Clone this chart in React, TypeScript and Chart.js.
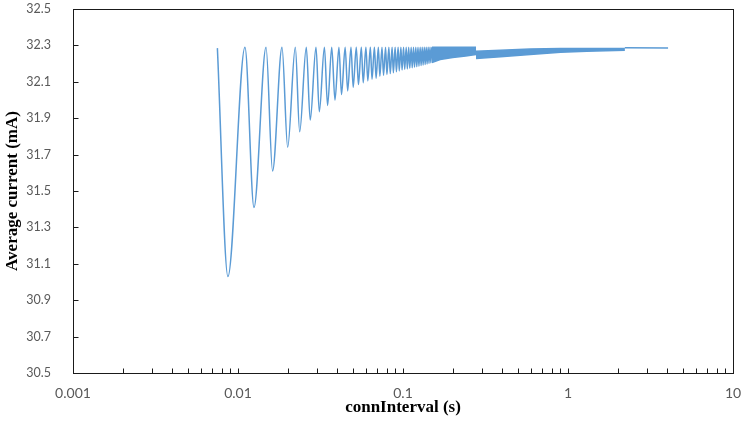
import React, { useEffect, useRef } from "react";
import { Chart, registerables } from "chart.js";

Chart.register(...registerables);

// ---- Data ----
// Oscillating part: start point, then alternating troughs / peaks (connInterval in s, current in mA)
const oscInterval = [
  0.0075, 0.00869, 0.01102, 0.0125, 0.01479, 0.0162, 0.01848, 0.02, 0.02225,
  0.02365, 0.02594, 0.0274, 0.0297, 0.0311, 0.0334, 0.0349, 0.037, 0.0387,
  0.0409, 0.0424, 0.0446, 0.0462, 0.0484, 0.0499, 0.0521, 0.0537, 0.0559,
  0.0574, 0.0596, 0.0612, 0.0634, 0.0649, 0.0671, 0.0687, 0.0709, 0.0724,
  0.0746, 0.0762, 0.0784, 0.0799, 0.0821, 0.0837, 0.0859, 0.0874, 0.0896,
  0.0912, 0.0934, 0.0949, 0.0971, 0.0987, 0.1008,
  0.1024, 0.1046, 0.1062, 0.1083, 0.1099, 0.1121, 0.1137, 0.1158, 0.1174,
  0.1196, 0.1212, 0.1233, 0.1249, 0.1271, 0.1287, 0.1308, 0.1324, 0.1346,
  0.1362, 0.1383, 0.1399, 0.1421, 0.1437, 0.1458, 0.1474, 0.1496,
];
const oscCurrent = [
  32.285, 31.03, 32.29, 31.41, 32.29, 31.61, 32.29, 31.74, 32.29,
  31.825, 32.29, 31.89, 32.29, 31.935, 32.29, 31.97, 32.29, 32.0,
  32.29, 32.03, 32.29, 32.05, 32.29, 32.07, 32.29, 32.085, 32.29,
  32.095, 32.29, 32.105, 32.29, 32.115, 32.29, 32.12, 32.29, 32.13,
  32.29, 32.135, 32.29, 32.14, 32.29, 32.145, 32.29, 32.15, 32.29,
  32.155, 32.29, 32.16, 32.29, 32.165, 32.29,
  32.168, 32.29, 32.171, 32.29, 32.174, 32.29, 32.177, 32.29, 32.18,
  32.29, 32.183, 32.29, 32.186, 32.29, 32.189, 32.29, 32.192, 32.29,
  32.195, 32.29, 32.198, 32.29, 32.201, 32.29, 32.204, 32.29,
];

// Dense band (too many oscillations to separate), upper and lower envelopes
const band1Interval = [0.1496, 0.168, 0.2, 0.24, 0.277];
const band1Upper = [32.29, 32.29, 32.29, 32.29, 32.29];
const band1Lower = [32.206, 32.222, 32.233, 32.242, 32.25];

const band2Interval = [0.277, 0.39, 0.59, 0.9, 1.3, 2.21];
const band2Upper = [32.268, 32.274, 32.28, 32.283, 32.283, 32.283];
const band2Lower = [32.228, 32.238, 32.25, 32.262, 32.268, 32.274];

const tailInterval = [2.21, 4.04];
const tailCurrent = [32.287, 32.286];

// Axes
const xTickValues = [0.001, 0.01, 0.1, 1, 10];
const xTickLabels = ["0.001", "0.01", "0.1", "1", "10"];
const xDecades = [0.001, 0.01, 0.1, 1];
const xMinorMultipliers = [2, 3, 4, 5, 6, 7, 8, 9];
const yTickValues = [30.5, 30.7, 30.9, 31.1, 31.3, 31.5, 31.7, 31.9, 32.1, 32.3, 32.5];
const yTickLabels = ["30.5", "30.7", "30.9", "31.1", "31.3", "31.5", "31.7", "31.9", "32.1", "32.3", "32.5"];

const BLUE = "#5B9BD5";

const pts = (xs: number[], ys: number[]) => xs.map((x, i) => ({ x, y: ys[i] }));

const framePlugin = {
  id: "frameTicks",
  afterDraw(chart: any) {
    const { ctx, chartArea: a, scales } = chart;
    const xs = scales.x;
    const ys = scales.y;
    ctx.save();
    ctx.strokeStyle = "#1a1a1a";
    ctx.lineWidth = 1;
    const L = Math.round(a.left) + 0.5;
    const R = Math.round(a.right) + 0.5;
    const T = Math.round(a.top) + 0.5;
    const B = Math.round(a.bottom) + 0.5;
    ctx.strokeRect(L, T, R - L, B - T);
    ctx.beginPath();
    const marks: number[] = [];
    xDecades.forEach((d) => {
      marks.push(d);
      xMinorMultipliers.forEach((m) => marks.push(d * m));
    });
    marks.push(10);
    marks.forEach((v) => {
      const px = Math.round(xs.getPixelForValue(v)) + 0.5;
      ctx.moveTo(px, B);
      ctx.lineTo(px, B - 5);
    });
    yTickValues.forEach((v) => {
      const py = Math.round(ys.getPixelForValue(v)) + 0.5;
      ctx.moveTo(L, py);
      ctx.lineTo(L + 5, py);
    });
    ctx.stroke();
    ctx.restore();
  },
};

const bgPlugin = {
  id: "bg",
  beforeDraw(chart: any) {
    const { ctx, width, height } = chart;
    ctx.save();
    ctx.fillStyle = "#ffffff";
    ctx.fillRect(0, 0, width, height);
    ctx.restore();
  },
};

export default function App() {
  const ref = useRef<HTMLCanvasElement | null>(null);

  useEffect(() => {
    if (!ref.current) return;
    const lineBase = {
      borderColor: BLUE,
      backgroundColor: BLUE,
      borderWidth: 1.5,
      pointRadius: 0,
      pointHoverRadius: 0,
    };
    const chart = new Chart(ref.current, {
      type: "line",
      data: {
        datasets: [
          {
            ...lineBase,
            data: pts(oscInterval, oscCurrent),
            cubicInterpolationMode: "monotone",
            fill: false,
          },
          { ...lineBase, data: pts(band1Interval, band1Upper), fill: false },
          { ...lineBase, data: pts(band1Interval, band1Lower), fill: "-1" },
          { ...lineBase, data: pts(band2Interval, band2Upper), fill: false },
          { ...lineBase, data: pts(band2Interval, band2Lower), fill: "-1" },
          { ...lineBase, data: pts(tailInterval, tailCurrent), fill: false },
        ] as any,
      },
      options: {
        animation: false,
        responsive: true,
        maintainAspectRatio: false,
        layout: { padding: { left: 0, top: 9, right: 12, bottom: 0 } },
        plugins: { legend: { display: false }, tooltip: { enabled: false } },
        events: [],
        scales: {
          x: {
            type: "logarithmic",
            min: 0.001,
            max: 10,
            border: { display: false },
            grid: { display: false, drawTicks: false },
            afterBuildTicks: (scale: any) => {
              scale.ticks = xTickValues.map((v) => ({ value: v, major: true }));
            },
            afterFit: (scale: any) => {
              scale.height = 50;
              scale.paddingLeft = 0;
              scale.paddingRight = 0;
            },
            ticks: {
              autoSkip: false,
              maxRotation: 0,
              padding: 12,
              color: "#595959",
              font: { family: "Lato", size: 14 },
              callback: (_v: any, i: number) => xTickLabels[i],
            },
            title: {
              display: true,
              text: "connInterval (s)",
              color: "#000000",
              font: { family: "Liberation Serif", size: 17, weight: "bold" },
              padding: { top: 0, bottom: 5 },
            },
          },
          y: {
            type: "linear",
            min: 30.5,
            max: 32.5,
            border: { display: false },
            grid: { display: false, drawTicks: false },
            afterBuildTicks: (scale: any) => {
              scale.ticks = yTickValues.map((v) => ({ value: v }));
            },
            afterFit: (scale: any) => {
              scale.width = 73;
              scale.paddingTop = 0;
              scale.paddingBottom = 0;
            },
            ticks: {
              autoSkip: false,
              padding: 22,
              color: "#595959",
              font: { family: "Lato", size: 12.5 },
              callback: (_v: any, i: number) => yTickLabels[i],
            },
            title: {
              display: true,
              text: "Average current (mA)",
              color: "#000000",
              font: { family: "Liberation Serif", size: 17, weight: "bold" },
              padding: { top: 2, bottom: 0 },
            },
          },
        },
      },
      plugins: [bgPlugin, framePlugin],
    });
    return () => chart.destroy();
  }, []);

  return (
    <div style={{ position: "fixed", left: 0, top: 0, width: 745, height: 423, background: "#fff" }}>
      <canvas ref={ref} />
    </div>
  );
}
